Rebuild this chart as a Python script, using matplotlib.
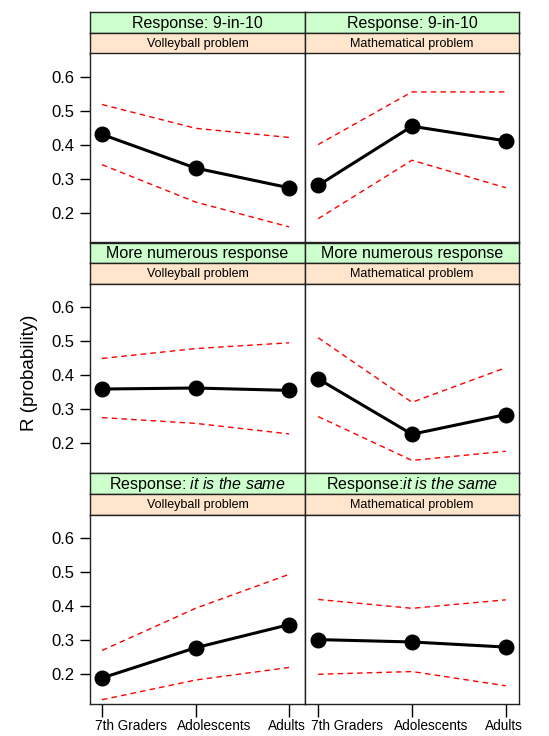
import matplotlib
matplotlib.use("Agg")
import matplotlib.pyplot as plt
import matplotlib.transforms as mtransforms
import numpy as np

plt.rcParams['font.family'] = ['Liberation Sans', 'DejaVu Sans']
plt.rcParams['mathtext.fontset'] = 'custom'
plt.rcParams['mathtext.rm'] = 'Liberation Sans'
plt.rcParams['mathtext.it'] = 'Liberation Sans:italic'

groups = ["7th Graders", "Adolescents", "Adults"]
problems = ["Volleyball problem", "Mathematical problem"]
responses = [
    ["Response: 9-in-10", "Response: 9-in-10"],
    ["More numerous response", "More numerous response"],
    [r"Response: $\mathit{it\ is\ the\ same}$", r"Response:$\mathit{it\ is\ the\ same}$"],
]

# fit / lower / upper per response (row) and problem (column)
fit_9in10_volley = [0.430, 0.331, 0.273]
low_9in10_volley = [0.341, 0.231, 0.158]
up_9in10_volley = [0.518, 0.448, 0.421]
fit_9in10_math = [0.280, 0.454, 0.411]
low_9in10_math = [0.182, 0.354, 0.273]
up_9in10_math = [0.400, 0.555, 0.555]

fit_more_volley = [0.359, 0.362, 0.355]
low_more_volley = [0.275, 0.258, 0.227]
up_more_volley = [0.449, 0.478, 0.495]
fit_more_math = [0.389, 0.226, 0.284]
low_more_math = [0.278, 0.149, 0.176]
up_more_math = [0.510, 0.320, 0.422]

fit_same_volley = [0.187, 0.276, 0.344]
low_same_volley = [0.123, 0.181, 0.218]
up_same_volley = [0.268, 0.392, 0.492]
fit_same_math = [0.300, 0.293, 0.278]
low_same_math = [0.198, 0.206, 0.164]
up_same_math = [0.418, 0.392, 0.417]

data = [
    [(fit_9in10_volley, low_9in10_volley, up_9in10_volley), (fit_9in10_math, low_9in10_math, up_9in10_math)],
    [(fit_more_volley, low_more_volley, up_more_volley), (fit_more_math, low_more_math, up_more_math)],
    [(fit_same_volley, low_same_volley, up_same_volley), (fit_same_math, low_same_math, up_same_math)],
]

yticks = [0.2, 0.3, 0.4, 0.5, 0.6]

W, H = 549, 736
fig = plt.figure(figsize=(W / 100, H / 100), dpi=100)

def box(x0, y0, x1, y1):
    # pixel coords (top-left origin) -> figure fraction
    return [x0 / W, 1 - y1 / H, (x1 - x0) / W, (y1 - y0) / H]

xs_col = [(90, 305), (305, 519)]
top = 12
row_h = 230.5
g_h = 20.5
o_h = 21
xvals = np.arange(1, 4)
# horizontal label shifts (pixels) as seen in the reference
label_shift = [(-7, 'left'), (19, 'center'), (-2, 'center')]

for r in range(3):
    ry = top + r * row_h
    for c in range(2):
        x0, x1 = xs_col[c]
        # green strip
        sg = fig.add_axes(box(x0, ry, x1, ry + g_h))
        sg.set_facecolor('#CCFFCC')
        sg.set_xticks([]); sg.set_yticks([])
        for s in sg.spines.values():
            s.set_color('#222222'); s.set_linewidth(1)
        sg.text(0.5, 0.45, responses[r][c], ha='center', va='center', fontsize=11.5,
                transform=sg.transAxes)
        # orange strip
        so = fig.add_axes(box(x0, ry + g_h, x1, ry + g_h + o_h))
        so.set_facecolor('#FFE5CC')
        so.set_xticks([]); so.set_yticks([])
        for s in so.spines.values():
            s.set_color('#222222'); s.set_linewidth(1)
        so.text(0.5, 0.47, problems[c], ha='center', va='center', fontsize=9,
                transform=so.transAxes)
        # panel
        ax = fig.add_axes(box(x0, ry + g_h + o_h, x1, ry + row_h))
        fit, low, up = data[r][c]
        ax.plot(xvals, up, color='red', lw=1, dashes=(4, 3))
        ax.plot(xvals, low, color='red', lw=1, dashes=(4, 3))
        ax.plot(xvals, fit, color='black', lw=2.2, marker='o', markersize=10.5)
        ax.set_ylim(0.112, 0.668)
        if c == 0:
            ax.set_xlim(0.872, 3.17)
        else:
            ax.set_xlim(0.86, 3.14)
        for s in ax.spines.values():
            s.set_color('#222222'); s.set_linewidth(1)
        if c == 0:
            ax.set_yticks(yticks)
            ax.set_yticklabels([f"{v:.1f}" for v in yticks], fontsize=12)
            ax.tick_params(axis='y', length=7, width=1, pad=4)
        else:
            ax.set_yticks([])
        if r == 2:
            ax.set_xticks(xvals)
            ax.set_xticklabels(groups, fontsize=9.8)
            ax.tick_params(axis='x', length=9, width=1, pad=2)
            for lab, (dx, ha) in zip(ax.get_xticklabels(), label_shift):
                lab.set_ha(ha)
                lab.set_transform(lab.get_transform() +
                                  mtransforms.ScaledTranslation(dx / 100, 0, fig.dpi_scale_trans))
        else:
            ax.set_xticks([])

fig.text(30 / W, 1 - 373 / H, "R (probability)", rotation=90, ha='center', va='center',
         fontsize=13.5)

fig.savefig("out.png", dpi=100)
